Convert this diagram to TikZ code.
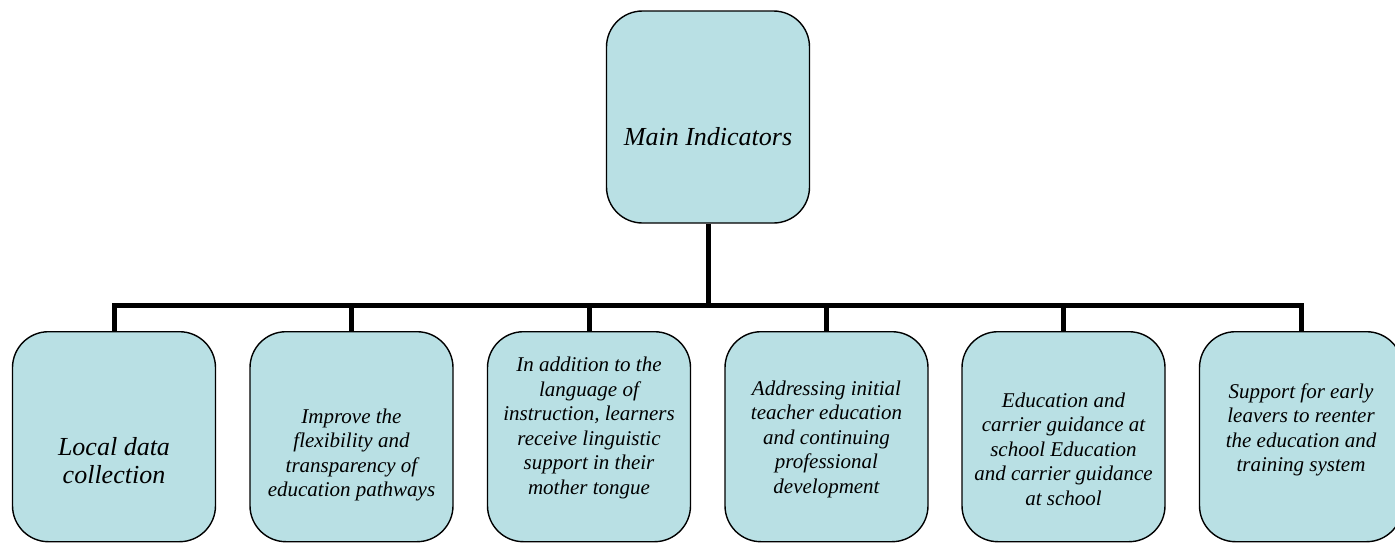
\documentclass[tikz,border=0pt]{standalone}
\usepackage{fontspec}
\setmainfont{Liberation Serif}
\definecolor{boxfill}{RGB}{185,224,228}
\tikzset{
  box/.style={draw=black, line width=1.4pt, fill=boxfill, rounded corners=36pt, minimum width=203pt, inner sep=0pt},
  topbox/.style={box, minimum height=212pt},
  childbox/.style={box, minimum height=210pt},
  conn/.style={draw=black, line width=5pt, line join=miter},
  bigtxt/.style={align=center, font=\fontsize{26}{28}\selectfont\itshape, inner sep=0pt},
  smalltxt/.style={align=center, font=\fontsize{21}{24.5}\selectfont\itshape, inner sep=0pt}
}
\begin{document}
\begin{tikzpicture}[x=1pt,y=-1pt]
\useasboundingbox (0,0) rectangle (1395,542);
\node[topbox] (top) at (708,117) {};
\node[bigtxt] (ttop) at (708,137) {Main Indicators};
\coordinate (bar) at (708,305);
\node[childbox, anchor=north] (c1) at (114,331) {};
\node[childbox, anchor=north] (c2) at (351.5,331) {};
\node[childbox, anchor=north] (c3) at (589,331) {};
\node[childbox, anchor=north] (c4) at (826.5,331) {};
\node[childbox, anchor=north] (c5) at (1063.5,331) {};
\node[childbox, anchor=north] (c6) at (1301,331) {};
\node[bigtxt] (t1) at (114,461) {Local data\\collection};
\node[smalltxt] (t2) at (351.5,455) {Improve the\\flexibility and\\transparency of\\education pathways};
\node[smalltxt] (t3) at (589,428) {In addition to the\\language of\\instruction, learners\\receive linguistic\\support in their\\mother tongue};
\node[smalltxt] (t4) at (826.5,439) {Addressing initial\\teacher education\\and continuing\\professional\\development};
\node[smalltxt] (t5) at (1063.5,449) {Education and\\carrier guidance at\\school Education\\and carrier guidance\\at school};
\node[smalltxt] (t6) at (1301,430) {Support for early\\leavers to reenter\\the education and\\training system};
\draw[conn] (top.south) -- (bar);
\foreach \c in {c1,c2,c3,c4,c5,c6} {
  \draw[conn] (\c.north) |- (bar);
}
\end{tikzpicture}
\end{document}
